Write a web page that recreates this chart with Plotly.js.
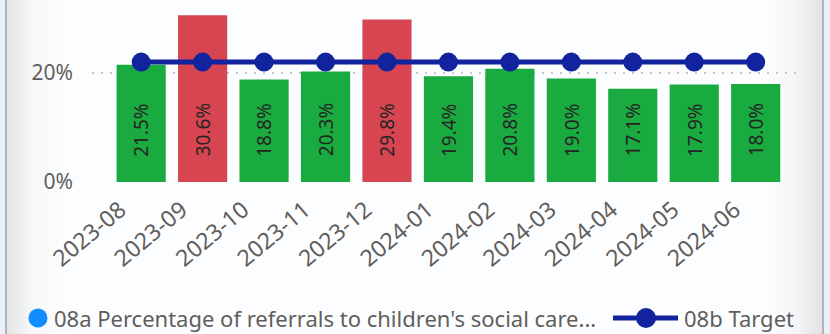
<!DOCTYPE html>
<html>
<head>
<meta charset="utf-8">
<script src="https://cdn.plot.ly/plotly-3.0.1.min.js"></script>
<style>
  html, body { margin: 0; padding: 0; background: #EAF0FB; }
  #card {
    position: absolute; left: 5px; top: 0; width: 815px; height: 334px;
    border-left: 2px solid #B3B3B3; border-right: 2px solid #B3B3B3;
    background: linear-gradient(to right, #E4E4E4 0px, #F6F7F8 25px, #FCFDFE 60px, #FCFDFE 760px, #F4F5F6 790px, #E2E2E2 815px);
  }
  #chart { position: absolute; left: 0; top: 0; width: 830px; height: 334px; }
</style>
</head>
<body>
<div id="card"></div>
<div id="chart"></div>
<script>
// Monthly referral percentages and the target they are measured against
const months = ["2023-08", "2023-09", "2023-10", "2023-11", "2023-12", "2024-01",
                "2024-02", "2024-03", "2024-04", "2024-05", "2024-06"];
const referralPct = [21.5, 30.6, 18.8, 20.3, 29.8, 19.4, 20.8, 19.0, 17.1, 17.9, 18.0];
const targetPct = [22, 22, 22, 22, 22, 22, 22, 22, 22, 22, 22];
const yTicks = [0, 20];
const yTickLabels = ["0%", "20%"];
const seriesNames = ["08a Percentage of referrals to children's social care...", "08b Target"];

const GREEN = "#1AAB40", RED = "#D64550", NAVY = "#12239E", BLUE = "#118DFF";
const TEXT = "#605E5C";
const FONT = "'Segoe UI', 'Noto Sans', sans-serif";

// months above target are flagged red
const barColors = referralPct.map((v, i) => v > targetPct[i] ? RED : GREEN);

const bars = {
  type: "bar", x: months, y: referralPct, width: 0.8,
  marker: { color: barColors }, hoverinfo: "x+y"
};
const target = {
  type: "scatter", mode: "lines+markers", x: months, y: targetPct,
  line: { color: NAVY, width: 5 }, marker: { color: NAVY, size: 19 }
};

// value labels written vertically inside each bar
const labels = months.map((m, i) => ({
  x: m, y: 9.6, xref: "x", yref: "y", text: referralPct[i].toFixed(1) + "%",
  textangle: -90, showarrow: false, font: { family: FONT, size: 19, color: "#252423" }
}));

// legend row below the axis (plot area spans 711 x 182 px)
const PW = 711, PH = 182, PL = 92;
const px = v => (v - PL) / PW;
const legendY = (PH - 318) / PH;
const legendText = [
  { x: px(52), y: legendY, xref: "paper", yref: "paper", xanchor: "left", yanchor: "middle",
    text: seriesNames[0], showarrow: false, font: { family: FONT, size: 22, color: TEXT } },
  { x: px(682), y: legendY, xref: "paper", yref: "paper", xanchor: "left", yanchor: "middle",
    text: seriesNames[1], showarrow: false, font: { family: FONT, size: 22, color: TEXT } }
];
const legendShapes = [
  { type: "circle", xref: "paper", yref: "paper", xsizemode: "pixel", ysizemode: "pixel",
    xanchor: px(38), yanchor: legendY, x0: -9.5, x1: 9.5, y0: -9.5, y1: 9.5,
    fillcolor: BLUE, line: { width: 0 } },
  { type: "line", xref: "paper", yref: "paper", x0: px(613), x1: px(678), y0: legendY, y1: legendY,
    line: { color: NAVY, width: 5 } },
  { type: "circle", xref: "paper", yref: "paper", xsizemode: "pixel", ysizemode: "pixel",
    xanchor: px(646), yanchor: legendY, x0: -10, x1: 10, y0: -10, y1: 10,
    fillcolor: NAVY, line: { width: 0 } }
];

const layout = {
  width: 830, height: 334,
  margin: { l: PL, r: 830 - PL - PW, t: 0, b: 334 - PH },
  paper_bgcolor: "rgba(0,0,0,0)", plot_bgcolor: "rgba(0,0,0,0)",
  font: { family: FONT, color: TEXT, size: 22 },
  showlegend: false,
  xaxis: {
    type: "category", range: [-0.8, 10.77], tickangle: -40, showgrid: false,
    showline: false, zeroline: false, ticks: "", ticklabelshift: -21, ticklabelstandoff: 9,
    tickfont: { size: 23, color: TEXT }
  },
  yaxis: {
    range: [0, 33.4], tickvals: yTicks, ticktext: yTickLabels, showgrid: true,
    gridcolor: "#C8C6C4", griddash: "2px,7px", gridwidth: 2, zeroline: false,
    showline: false, ticks: "", ticklabelstandoff: 18, tickfont: { size: 21, color: TEXT }
  },
  annotations: labels.concat(legendText),
  shapes: legendShapes
};

Plotly.newPlot("chart", [bars, target], layout, { displayModeBar: false, staticPlot: true });
</script>
</body>
</html>
